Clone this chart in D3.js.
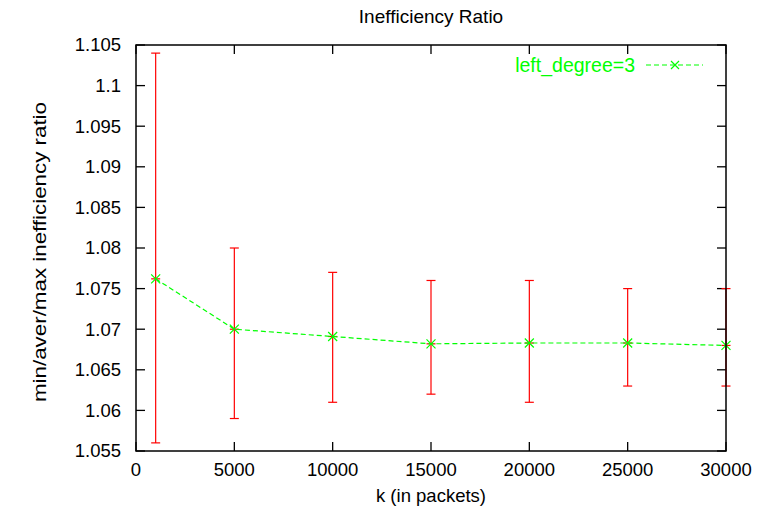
<!DOCTYPE html>
<html>
  <head>
    <meta charset="utf-8">
    <title>Inefficiency Ratio</title>
    <script src="https://d3js.org/d3.v7.min.js"></script>
    <style>
      body { margin: 0; background: #fff; }
      text { font-family: "Liberation Sans", Arial, sans-serif; }
    </style>
  </head>
  <body>
    <div id="chart"></div>

    <script>

        // values
        const kValues   = [1000, 5000, 10000, 15000, 20000, 25000, 30000],
              averRatio = [1.0762, 1.0700, 1.0691, 1.0682, 1.0683, 1.0683, 1.0680],
              minRatio  = [1.056, 1.059, 1.061, 1.062, 1.061, 1.063, 1.063],
              maxRatio  = [1.104, 1.080, 1.077, 1.076, 1.076, 1.075, 1.075],
              xTicks    = [0, 5000, 10000, 15000, 20000, 25000, 30000],
              yTicks    = [1.055, 1.06, 1.065, 1.07, 1.075, 1.08, 1.085, 1.09, 1.095, 1.1, 1.105],
              seriesName = 'left_degree=3'

        const width = 778, height = 512,
              margin = {top: 45, right: 52, bottom: 61, left: 136},
              fontSize = 18.5,
              tickLen = 9

        let svg = d3.select('#chart').append('svg')
                .attr('width', width)
                .attr('height', height),

            x = d3.scaleLinear().domain([0, 30000]).range([margin.left, width - margin.right]),
            y = d3.scaleLinear().domain([1.055, 1.105]).range([height - margin.bottom, margin.top])

        let data = kValues.map((k, i) => ({k: k, aver: averRatio[i], min: minRatio[i], max: maxRatio[i]}))

        // ticks (gnuplot style: inward, mirrored on both sides)
        let axisG = svg.append('g').attr('stroke', '#000').attr('stroke-width', 1.3)

        xTicks.forEach(t => {
            axisG.append('line').attr('x1', x(t)).attr('x2', x(t))
                .attr('y1', y.range()[0]).attr('y2', y.range()[0] - tickLen)
            axisG.append('line').attr('x1', x(t)).attr('x2', x(t))
                .attr('y1', y.range()[1]).attr('y2', y.range()[1] + tickLen)
        })
        yTicks.forEach(t => {
            axisG.append('line').attr('y1', y(t)).attr('y2', y(t))
                .attr('x1', x.range()[0]).attr('x2', x.range()[0] + tickLen)
            axisG.append('line').attr('y1', y(t)).attr('y2', y(t))
                .attr('x1', x.range()[1]).attr('x2', x.range()[1] - tickLen)
        })

        svg.selectAll('.xlabel')
            .data(xTicks)
            .enter().append('text')
            .attr('class', 'xlabel')
            .attr('x', d => x(d))
            .attr('y', y.range()[0] + 25)
            .attr('text-anchor', 'middle')
            .style('font-size', fontSize + 'px')
            .text(d => d)

        svg.selectAll('.ylabel')
            .data(yTicks)
            .enter().append('text')
            .attr('class', 'ylabel')
            .attr('x', x.range()[0] - 15)
            .attr('y', d => y(d))
            .attr('dy', '0.35em')
            .attr('text-anchor', 'end')
            .style('font-size', fontSize + 'px')
            .text(d => d3.format('.4~f')(d))

        // error bars
        let errG = svg.append('g').attr('stroke', '#ff0000').attr('stroke-width', 1.2)

        data.forEach(d => {
            let cx = x(d.k)
            errG.append('line').attr('x1', cx).attr('x2', cx).attr('y1', y(d.min)).attr('y2', y(d.max))
            errG.append('line').attr('x1', cx - 4.5).attr('x2', cx + 4.5).attr('y1', y(d.min)).attr('y2', y(d.min))
            errG.append('line').attr('x1', cx - 4.5).attr('x2', cx + 4.5).attr('y1', y(d.max)).attr('y2', y(d.max))
            errG.append('line').attr('x1', cx - 4.5).attr('x2', cx + 4.5).attr('y1', y(d.aver)).attr('y2', y(d.aver))
        })

        // average line
        let line = d3.line()
            .x(d => x(d.k))
            .y(d => y(d.aver))

        svg.append('path')
            .datum(data)
            .attr('fill', 'none')
            .attr('stroke', '#00ff00')
            .attr('stroke-width', 1.2)
            .attr('stroke-dasharray', '5,3')
            .attr('d', line)

        function cross(g, cx, cy, s) {
            g.append('path')
                .attr('d', `M${cx - s},${cy - s}L${cx + s},${cy + s}M${cx - s},${cy + s}L${cx + s},${cy - s}`)
                .attr('stroke', '#00ff00')
                .attr('stroke-width', 1.2)
                .attr('fill', 'none')
        }

        let ptG = svg.append('g')
        data.forEach(d => cross(ptG, x(d.k), y(d.aver), 4.5))

        // border
        svg.append('rect')
            .attr('x', x.range()[0])
            .attr('y', y.range()[1])
            .attr('width', x.range()[1] - x.range()[0])
            .attr('height', y.range()[0] - y.range()[1])
            .attr('fill', 'none')
            .attr('stroke', '#000')
            .attr('stroke-width', 1.5)

        // legend
        let legY = 65
        svg.append('text')
            .attr('x', 635)
            .attr('y', legY)
            .attr('dy', '0.35em')
            .attr('text-anchor', 'end')
            .attr('fill', '#00ff00')
            .style('font-size', '19.5px')
            .text(seriesName)
        svg.append('line')
            .attr('x1', 646).attr('x2', 703)
            .attr('y1', legY).attr('y2', legY)
            .attr('stroke', '#00ff00')
            .attr('stroke-width', 1.2)
            .attr('stroke-dasharray', '5,3')
        cross(svg, 675, legY, 4)

        // titles
        svg.append('text')
            .attr('x', (x.range()[0] + x.range()[1]) / 2)
            .attr('y', 23)
            .attr('text-anchor', 'middle')
            .style('font-size', '19px')
            .text('Inefficiency Ratio')

        svg.append('text')
            .attr('x', (x.range()[0] + x.range()[1]) / 2)
            .attr('y', 502)
            .attr('text-anchor', 'middle')
            .style('font-size', fontSize + 'px')
            .text('k (in packets)')

        svg.append('text')
            .attr('transform', `translate(46,${(y.range()[0] + y.range()[1]) / 2 + 4}) rotate(-90)`)
            .attr('text-anchor', 'middle')
            .attr('textLength', 300)
            .attr('lengthAdjust', 'spacingAndGlyphs')
            .style('font-size', '19px')
            .text('min/aver/max inefficiency ratio')

    </script>
  </body>
</html>
